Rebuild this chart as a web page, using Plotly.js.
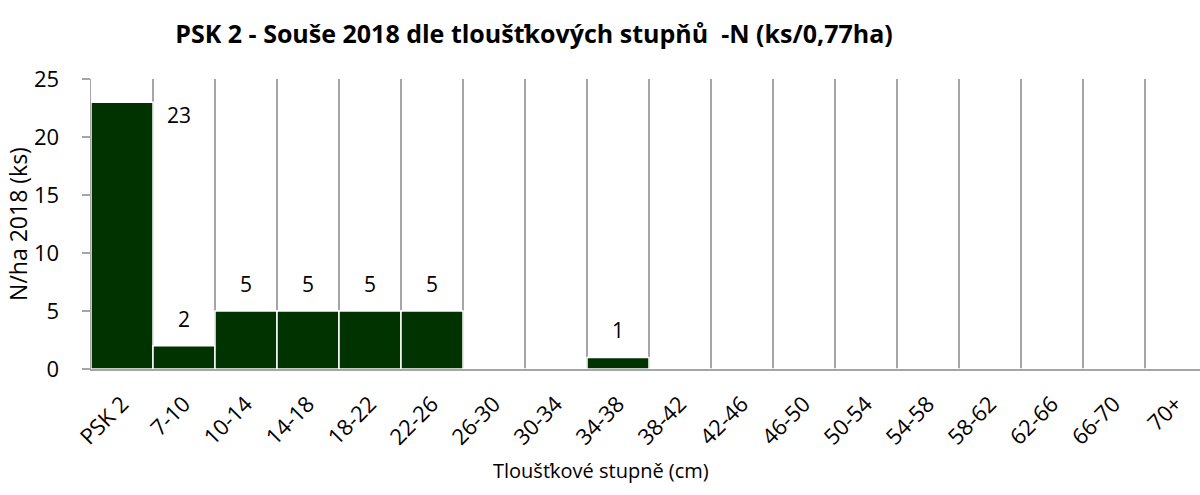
<!DOCTYPE html>
<html>
<head>
<meta charset="utf-8">
<script src="https://cdn.plot.ly/plotly-3.0.1.min.js"></script>
<style>
html, body { margin: 0; padding: 0; overflow: hidden; background: #fff; }
#chart { width: 1215px; height: 495px; }
</style>
</head>
<body>
<div id="chart"></div>
<script>
const categories = ["PSK 2","7-10","10-14","14-18","18-22","22-26","26-30","30-34","34-38","38-42","42-46","46-50","50-54","54-58","58-62","62-66","66-70","70+"];
const values = [23, 2, 5, 5, 5, 5, 0, 0, 1, 0, 0, 0, 0, 0, 0, 0, 0, 0];
const chartTitle = "PSK 2 - Souše 2018 dle tloušťkových stupňů  -N (ks/0,77ha)";
const xTitle = "Tloušťkové stupně (cm)";
const yTitle = "N/ha 2018 (ks)";

const FONT = "Open Sans, sans-serif";
const GRID = "#a6a6a6";

const trace = {
  type: "bar",
  x: categories,
  y: values,
  marker: { color: "#003300", line: { color: "#ffffff", width: 1.5 } },
  hoverinfo: "x+y"
};

const labelAnn = [];
values.forEach((v, i) => {
  if (v > 0) {
    const top = v >= 20;
    labelAnn.push({
      x: categories[i], y: v, xref: "x", yref: "y",
      text: String(v), showarrow: false,
      font: { family: FONT, size: 21, color: "#000" },
      xshift: top ? 57 : 0,
      yshift: top ? -13 : 27
    });
  }
});

labelAnn.push({
  xref: "paper", yref: "paper", x: (601 - 91) / 1116, y: 0,
  yshift: -101, xanchor: "center", yanchor: "middle",
  text: xTitle, showarrow: false,
  font: { family: FONT, size: 20, color: "#000" }
});

const layout = {
  width: 1215, height: 495,
  margin: { l: 91, r: 8, t: 79, b: 126 },
  paper_bgcolor: "#fff", plot_bgcolor: "#fff",
  bargap: 0,
  showlegend: false,
  title: {
    text: "<b>" + chartTitle + "</b>",
    font: { family: FONT, size: 25, color: "#000" },
    xref: "container", x: 534 / 1215, xanchor: "center",
    yref: "container", y: 1 - 34 / 495, yanchor: "middle"
  },
  xaxis: {
    type: "category",
    tickson: "boundaries",
    showgrid: true, gridcolor: GRID, gridwidth: 1.5,
    showline: true, linecolor: GRID, linewidth: 1.5,
    ticks: "", tickangle: -45,
    ticklabelstandoff: 12,
    tickfont: { family: FONT, size: 22, color: "#000" },
    fixedrange: true
  },
  yaxis: {
    range: [0, 25], dtick: 5, tick0: 0,
    showgrid: false, zeroline: false,
    showline: true, linecolor: GRID, linewidth: 1.5,
    ticks: "outside", ticklen: 8, tickcolor: GRID, tickwidth: 1.5,
    ticklabelstandoff: 18,
    tickfont: { family: FONT, size: 22, color: "#000" },
    title: { text: yTitle, font: { family: FONT, size: 23, color: "#000" }, standoff: 0 },
    fixedrange: true
  },
  annotations: labelAnn
};

Plotly.newPlot("chart", [trace], layout, { displayModeBar: false, staticPlot: true });
</script>
</body>
</html>
